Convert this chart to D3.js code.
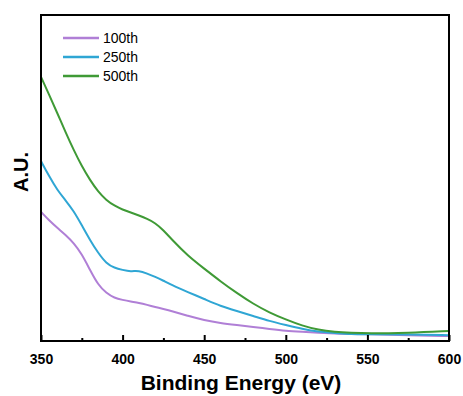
<!DOCTYPE html>
<html>
<head>
<meta charset="utf-8">
<script src="https://cdn.jsdelivr.net/npm/d3@7"></script>
<style>
  body { margin: 0; background: #fff; }
  svg text { font-family: Arial, "Liberation Sans", sans-serif; }
</style>
</head>
<body>
<svg id="chart"></svg>
<script>
// data (arbitrary units)
const energy = [350, 355, 360, 365, 370, 375, 380, 385, 390, 395, 400, 405, 410, 415, 420, 425, 430, 440, 450,
  460, 470, 480, 490, 500, 510, 520, 530, 540, 550, 575, 600];
const cycle100 = [39.6, 37.0, 34.7, 32.6, 30.1, 26.7, 21.8, 17.2, 14.7, 13.2, 12.6, 12.1, 11.7, 11.1, 10.4,
  9.8, 9.2, 7.7, 6.4, 5.5, 4.9, 4.3, 3.7, 3.1, 2.8, 2.5, 2.3, 2.1, 2.1, 1.8, 1.5];
const cycle250 = [55.2, 50.5, 46.3, 43.2, 39.9, 35.5, 31.0, 27.0, 23.8, 22.4, 21.8, 21.3, 21.6, 20.7, 19.7,
  18.5, 17.2, 15.0, 12.9, 10.7, 9.2, 7.7, 6.1, 4.9, 3.7, 2.8, 2.5, 2.1, 2.1, 2.0, 1.8];
const cycle500 = [81.0, 75.5, 69.9, 64.1, 58.6, 53.6, 49.4, 45.8, 43.2, 41.5, 40.3, 39.4, 38.5, 37.5, 36.2,
  34.0, 31.2, 26.1, 22.2, 18.3, 14.7, 11.4, 8.7, 6.6, 4.7, 3.4, 2.8, 2.5, 2.3, 2.5, 3.1];
const seriesNames = ['100th', '250th', '500th'];
const seriesColors = ['#b07fd6', '#2fa6d4', '#3f9a36'];
const xTicks = [350, 400, 450, 500, 550, 600];
const xMinorTicks = [375, 425, 475, 525, 575];

const fullWidth = 463;
const fullHeight = 396;
const margin = { top: 15, right: 14, bottom: 55, left: 41 };
const width = fullWidth - margin.left - margin.right;
const height = fullHeight - margin.top - margin.bottom;

const svg = d3.select('#chart')
    .attr('width', fullWidth)
    .attr('height', fullHeight)
  .append('g')
    .attr('transform', `translate(${margin.left}, ${margin.top})`);

const x = d3.scaleLinear()
    .domain([350, 600])
    .range([0, width]);

const y = d3.scaleLinear()
    .domain([0, 100])
    .range([height, 0]);

const series = [cycle100, cycle250, cycle500].map((vals, i) => ({
  name: seriesNames[i],
  color: seriesColors[i],
  values: energy.map((e, j) => ({ e, v: vals[j] })),
}));

const line = d3.line()
    .x(d => x(d.e))
    .y(d => y(d.v))
    .curve(d3.curveBasis);

svg.selectAll('.curve')
    .data(series)
  .enter().append('path')
    .attr('class', 'curve')
    .attr('fill', 'none')
    .attr('stroke', d => d.color)
    .attr('stroke-width', 2)
    .attr('d', d => line(d.values));

// x axis, ticks pointing inward
const xAxis = svg.append('g')
    .attr('transform', `translate(0, ${height})`)
    .call(d3.axisBottom(x)
      .tickValues(xTicks)
      .tickSizeInner(-6)
      .tickSizeOuter(0)
      .tickPadding(13));
xAxis.select('.domain').remove();
xAxis.selectAll('.tick line').attr('stroke', '#000').attr('stroke-width', 2);
xAxis.selectAll('.tick text')
    .attr('font-size', 14)
    .attr('font-weight', 'bold')
    .attr('fill', '#000');

svg.append('g')
    .attr('transform', `translate(0, ${height})`)
    .call(d3.axisBottom(x).tickValues(xMinorTicks).tickSizeInner(-3).tickSizeOuter(0).tickFormat(''))
    .call(g => g.select('.domain').remove())
    .selectAll('.tick line').attr('stroke', '#000').attr('stroke-width', 2);

// frame
svg.append('rect')
    .attr('width', width)
    .attr('height', height)
    .attr('fill', 'none')
    .attr('stroke', '#000')
    .attr('stroke-width', 2);

// titles
svg.append('text')
    .attr('x', width / 2 - 4)
    .attr('y', height + 49)
    .attr('text-anchor', 'middle')
    .attr('font-size', 21)
    .attr('font-weight', 'bold')
    .text('Binding Energy (eV)');

svg.append('text')
    .attr('transform', `translate(${-13}, ${172 - margin.top}) rotate(-90)`)
    .attr('text-anchor', 'middle')
    .attr('font-size', 20)
    .attr('font-weight', 'bold')
    .text('A.U.');

// legend
const legend = svg.selectAll('.legend')
    .data(series)
  .enter().append('g')
    .attr('class', 'legend')
    .attr('transform', (d, i) => `translate(22, ${23 + (i * 19)})`);

legend.append('line')
    .attr('x1', 0)
    .attr('x2', 36)
    .attr('stroke', d => d.color)
    .attr('stroke-width', 2.5);

legend.append('text')
    .attr('x', 40)
    .attr('y', 5)
    .attr('font-size', 14)
    .text(d => d.name);
</script>
</body>
</html>
